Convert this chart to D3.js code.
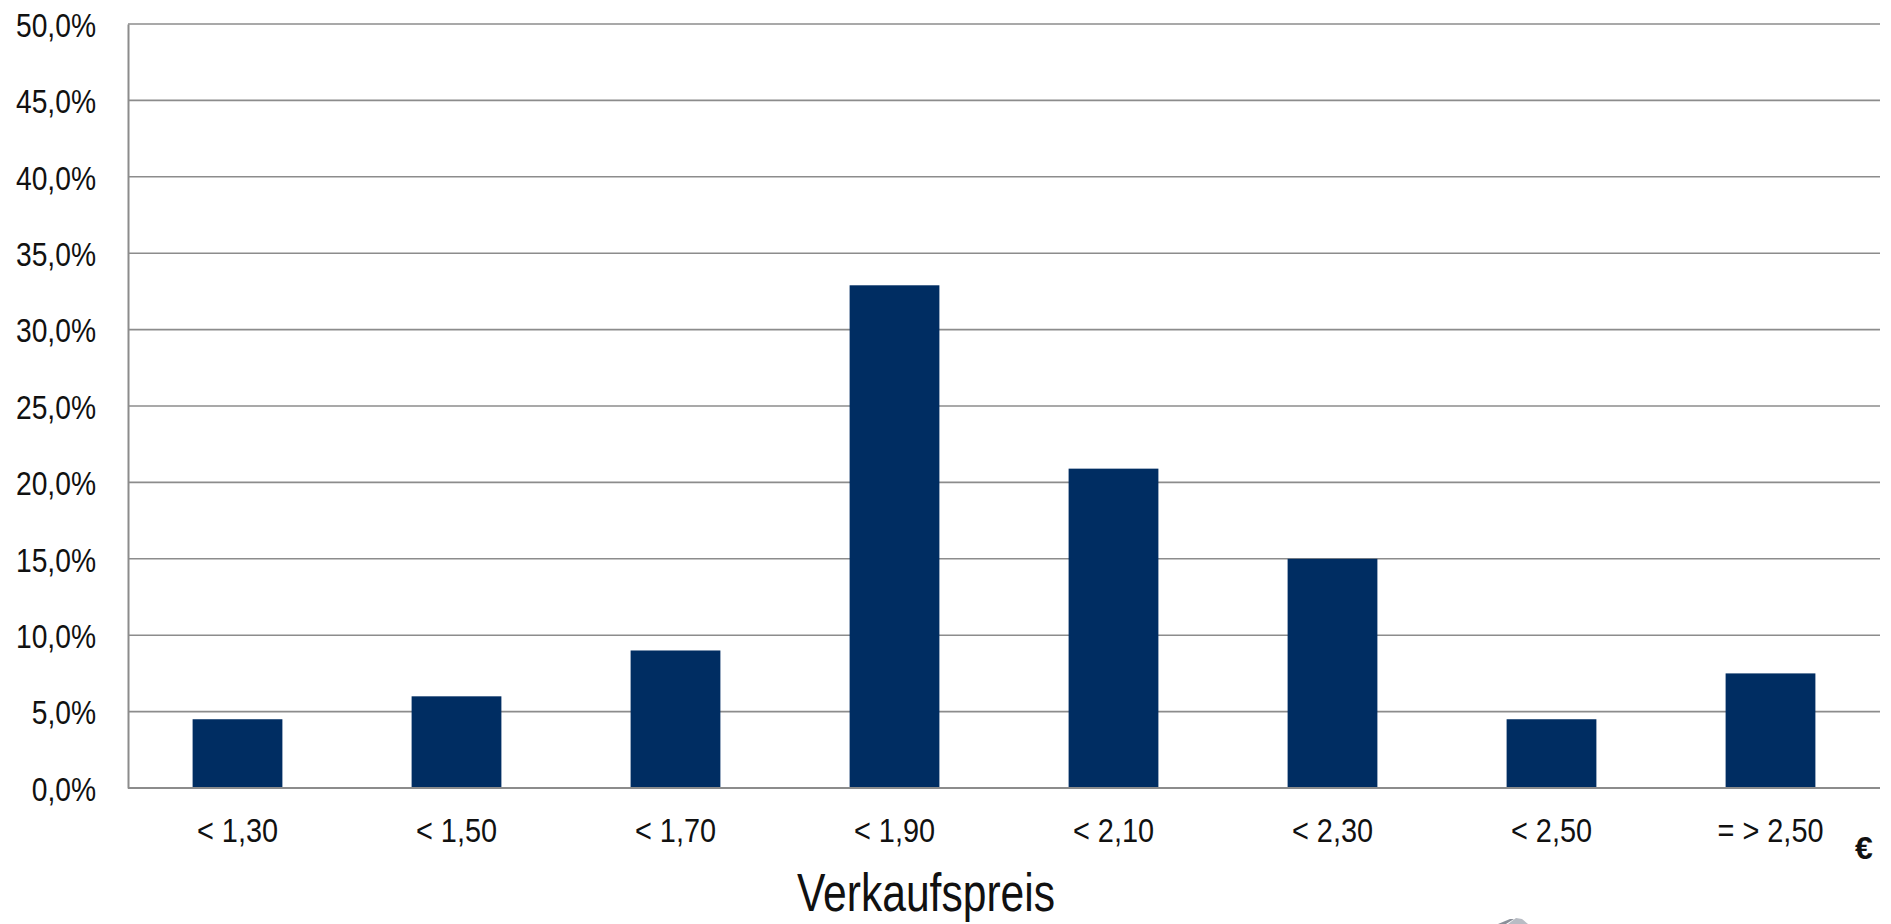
<!DOCTYPE html>
<html>
<head>
<meta charset="utf-8">
<script src="https://cdn.jsdelivr.net/npm/d3@7"></script>
<style>
  html, body { margin: 0; padding: 0; background: #fff; }
  svg { display: block; }
  text { font-family: "Liberation Sans", Arial, sans-serif; fill: #111; }
</style>
</head>
<body>
<svg id="chart" width="1891" height="924"></svg>
<script>
// Price bands and share of sales per band
const categories = ["< 1,30", "< 1,50", "< 1,70", "< 1,90", "< 2,10", "< 2,30", "< 2,50", "= > 2,50"];
const shares = [4.5, 6.0, 9.0, 32.9, 20.9, 15.0, 4.5, 7.5];
const yTicks = [0, 5, 10, 15, 20, 25, 30, 35, 40, 45, 50];
const xTitle = "Verkaufspreis";
const unitLabel = "€";

const svg = d3.select("#chart");
const margin = { left: 128, right: 11, top: 24, bottom: 136 };
const W = 1891, H = 924;
const plotW = W - margin.left - margin.right;
const plotH = H - margin.top - margin.bottom;

// Condensed look: squeeze each label horizontally
function condense(sel, factor) {
  sel.each(function () {
    const len = this.getComputedTextLength();
    d3.select(this)
      .attr("textLength", len * factor)
      .attr("lengthAdjust", "spacingAndGlyphs");
  });
}

const x = d3.scaleBand()
  .domain(categories)
  .range([margin.left, margin.left + plotW])
  .paddingInner(0.59)
  .paddingOuter(0.295);

const y = d3.scaleLinear()
  .domain([0, 50])
  .range([margin.top + plotH, margin.top]);

const fmt = v => v.toFixed(1).replace(".", ",") + "%";

// Horizontal gridlines
svg.append("g")
  .selectAll("line")
  .data(yTicks)
  .join("line")
  .attr("x1", margin.left)
  .attr("x2", margin.left + plotW)
  .attr("y1", d => y(d))
  .attr("y2", d => y(d))
  .attr("stroke", "#8c8c8c")
  .attr("stroke-width", 1.6);

// Y axis
const yAxis = svg.append("g")
  .attr("transform", `translate(${margin.left},0)`)
  .call(d3.axisLeft(y).tickValues(yTicks).tickFormat(fmt).tickSize(0).tickPadding(32));
yAxis.select(".domain").attr("stroke", "#8c8c8c").attr("stroke-width", 2);
yAxis.selectAll("text")
  .style("font-size", "34px")
  .attr("fill", "#111")
  .attr("dy", "0.36em")
  .call(condense, 0.83);

// Bars
svg.append("g")
  .selectAll("rect")
  .data(shares)
  .join("rect")
  .attr("x", (d, i) => x(categories[i]))
  .attr("width", x.bandwidth())
  .attr("y", d => y(d))
  .attr("height", d => y(0) - y(d))
  .attr("fill", "#002d62");

// Baseline drawn over the bar bottoms
svg.append("line")
  .attr("x1", margin.left)
  .attr("x2", margin.left + plotW)
  .attr("y1", y(0))
  .attr("y2", y(0))
  .attr("stroke", "#8c8c8c")
  .attr("stroke-width", 2);

// X axis labels
const xAxis = svg.append("g")
  .attr("transform", `translate(0,${y(0)})`)
  .call(d3.axisBottom(x).tickSize(0).tickPadding(30));
xAxis.select(".domain").remove();
xAxis.selectAll("text")
  .style("font-size", "34px")
  .attr("fill", "#111")
  .attr("dy", "0.71em")
  .call(condense, 0.85);

// Axis title
svg.append("text")
  .attr("x", 926)
  .attr("y", 911)
  .attr("text-anchor", "middle")
  .attr("textLength", 258)
  .attr("lengthAdjust", "spacingAndGlyphs")
  .style("font-size", "54px")
  .text(xTitle);

// Currency unit
svg.append("text")
  .attr("x", 1864)
  .attr("y", 859)
  .attr("text-anchor", "middle")
  .style("font-size", "32px")
  .style("font-weight", "bold")
  .text(unitLabel);

// Small emblem peeking in at the bottom edge
const logo = svg.append("g").attr("transform", "translate(1512,924)");
logo.append("path")
  .attr("d", "M-14,0 L-2,-5 L2,-5 L-6,0 Z")
  .attr("fill", "#8a8f99");
logo.append("path")
  .attr("d", "M-4,0 L4,-6 L10,-5 L16,0 Z")
  .attr("fill", "#b8bcc4");
</script>
</body>
</html>
